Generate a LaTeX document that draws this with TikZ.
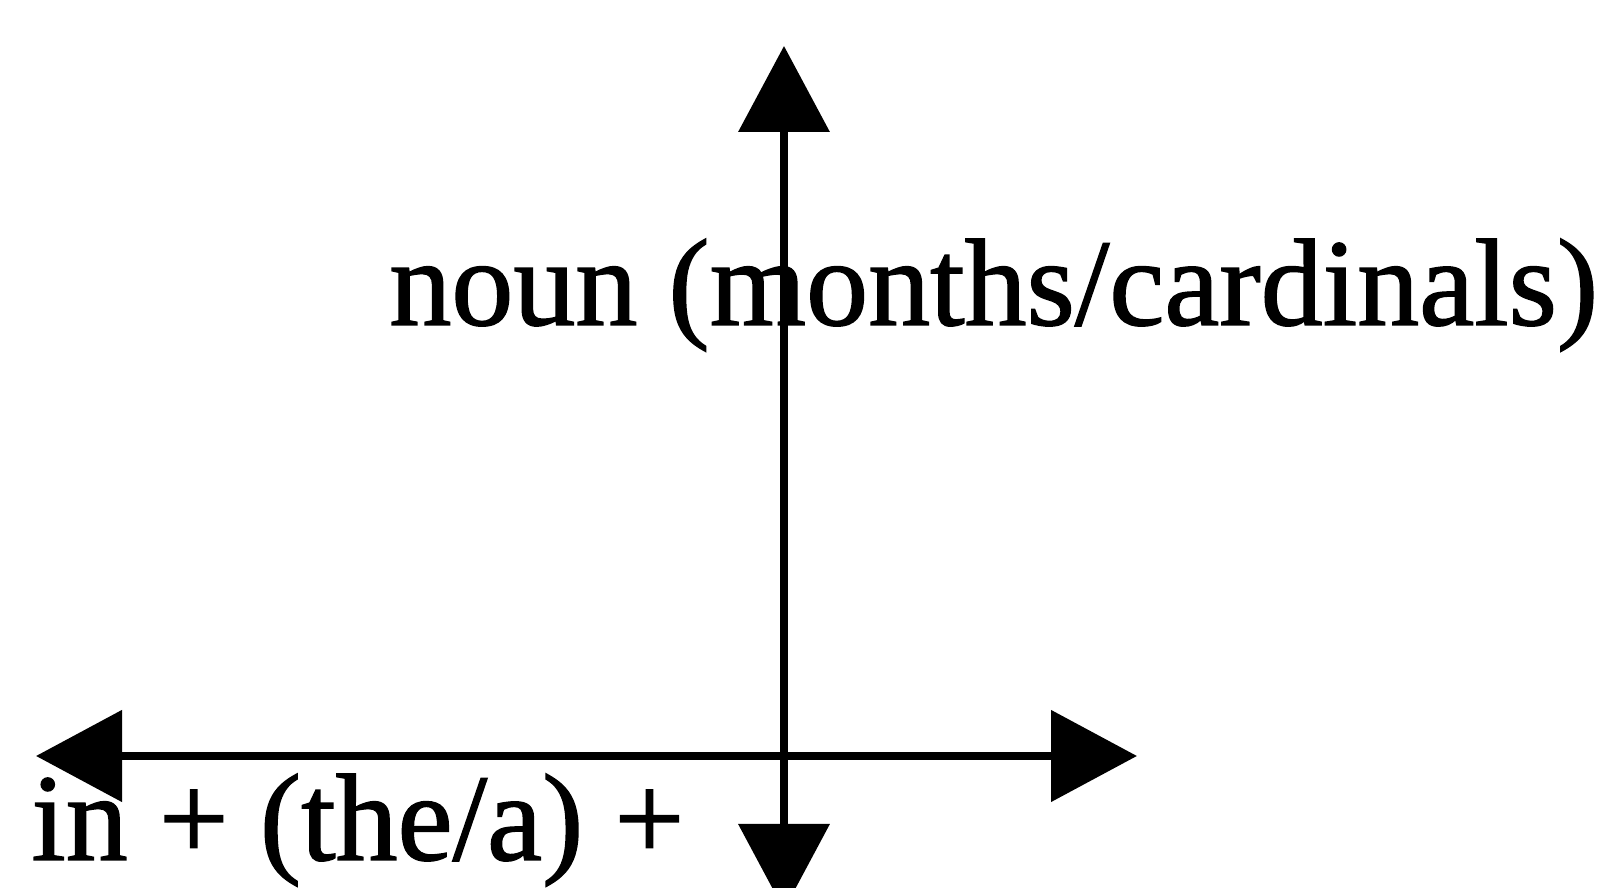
\documentclass[tikz,border=0pt]{standalone}
\usepackage{fontspec}
\setmainfont[FakeBold=1.2]{Liberation Serif}
\usetikzlibrary{arrows.meta,positioning}

\begin{document}
\begin{tikzpicture}[
  x=0.5pt,y=0.5pt,
  axis/.style={
    {Triangle[length=43pt,width=45pt]}-{Triangle[length=43pt,width=45pt]},
    line width=3.6pt,
    black
  },
  axislabel/.style={
    anchor=base west,
    inner sep=0pt,
    font=\fontsize{62}{62}\selectfont
  }
]
  \useasboundingbox (0,0) rectangle (1614,888);
  \clip (0,0) rectangle (1614,888);
  \coordinate (top) at (784,842);
  \coordinate (bottom) at (784,-22);
  \coordinate (left) at (36,132);
  \coordinate (right) at (1137,132);
  \draw[axis] (bottom) -- (top);
  \draw[axis,line width=4.2pt] (left) -- (right);
  \node[axislabel] (nounlabel) at (389,563) {noun (months/cardinals)};
  \node[axislabel] (inlabel) at (31,28) {in + (the/a) +};
\end{tikzpicture}
\end{document}
